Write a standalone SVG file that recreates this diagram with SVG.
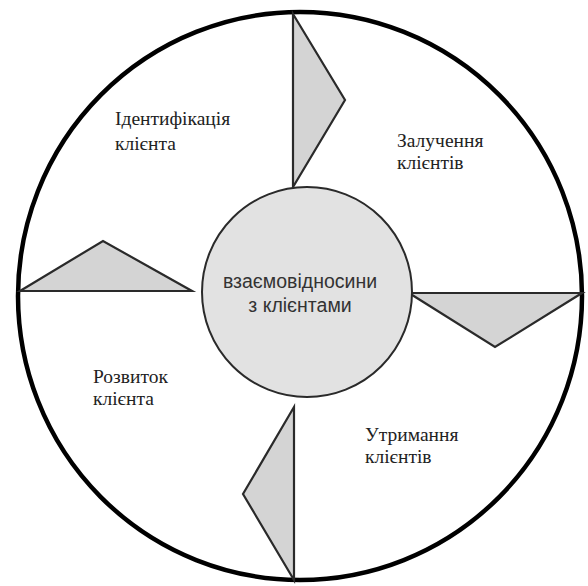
<svg xmlns="http://www.w3.org/2000/svg" width="588" height="586" viewBox="0 0 588 586">
<style>
.tri{fill:#d4d4d4;stroke:#2a2a2a;stroke-width:2.2;stroke-linejoin:miter}
.lbl{font-family:"Liberation Serif","Times New Roman",serif;font-size:19.5px;fill:#222}
.ctr{font-family:"Liberation Sans",Arial,sans-serif;font-size:19.5px;fill:#333;text-anchor:middle}
</style>
<rect width="588" height="586" fill="#fff"/>
<g id="outer">
<ellipse cx="300" cy="296" rx="282" ry="284" fill="none" stroke="#000" stroke-width="4.5"/>
</g>
<g id="connectors">
<polygon class="tri" points="293,14 345,100 293,187"/>
<polygon class="tri" points="20,291 103,241 192,291"/>
<polygon class="tri" points="409,293 582,293 495,347"/>
<polygon class="tri" points="294,407 243,494 294,580"/>
</g>
<g id="center">
<circle cx="307" cy="292" r="105" fill="#e2e2e2" stroke="#2a2a2a" stroke-width="2"/>
<text class="ctr" x="300" y="288">взаємовідносини</text>
<text class="ctr" x="300" y="312">з клієнтами</text>
</g>
<g id="identification">
<text class="lbl" x="115" y="125">Ідентифікація</text>
<text class="lbl" x="115" y="150">клієнта</text>
</g>
<g id="attraction">
<text class="lbl" x="397" y="147">Залучення</text>
<text class="lbl" x="397" y="169">клієнтів</text>
</g>
<g id="development">
<text class="lbl" x="93" y="383">Розвиток</text>
<text class="lbl" x="93" y="405">клієнта</text>
</g>
<g id="retention">
<text class="lbl" x="365" y="441">Утримання</text>
<text class="lbl" x="365" y="463">клієнтів</text>
</g>
</svg>
